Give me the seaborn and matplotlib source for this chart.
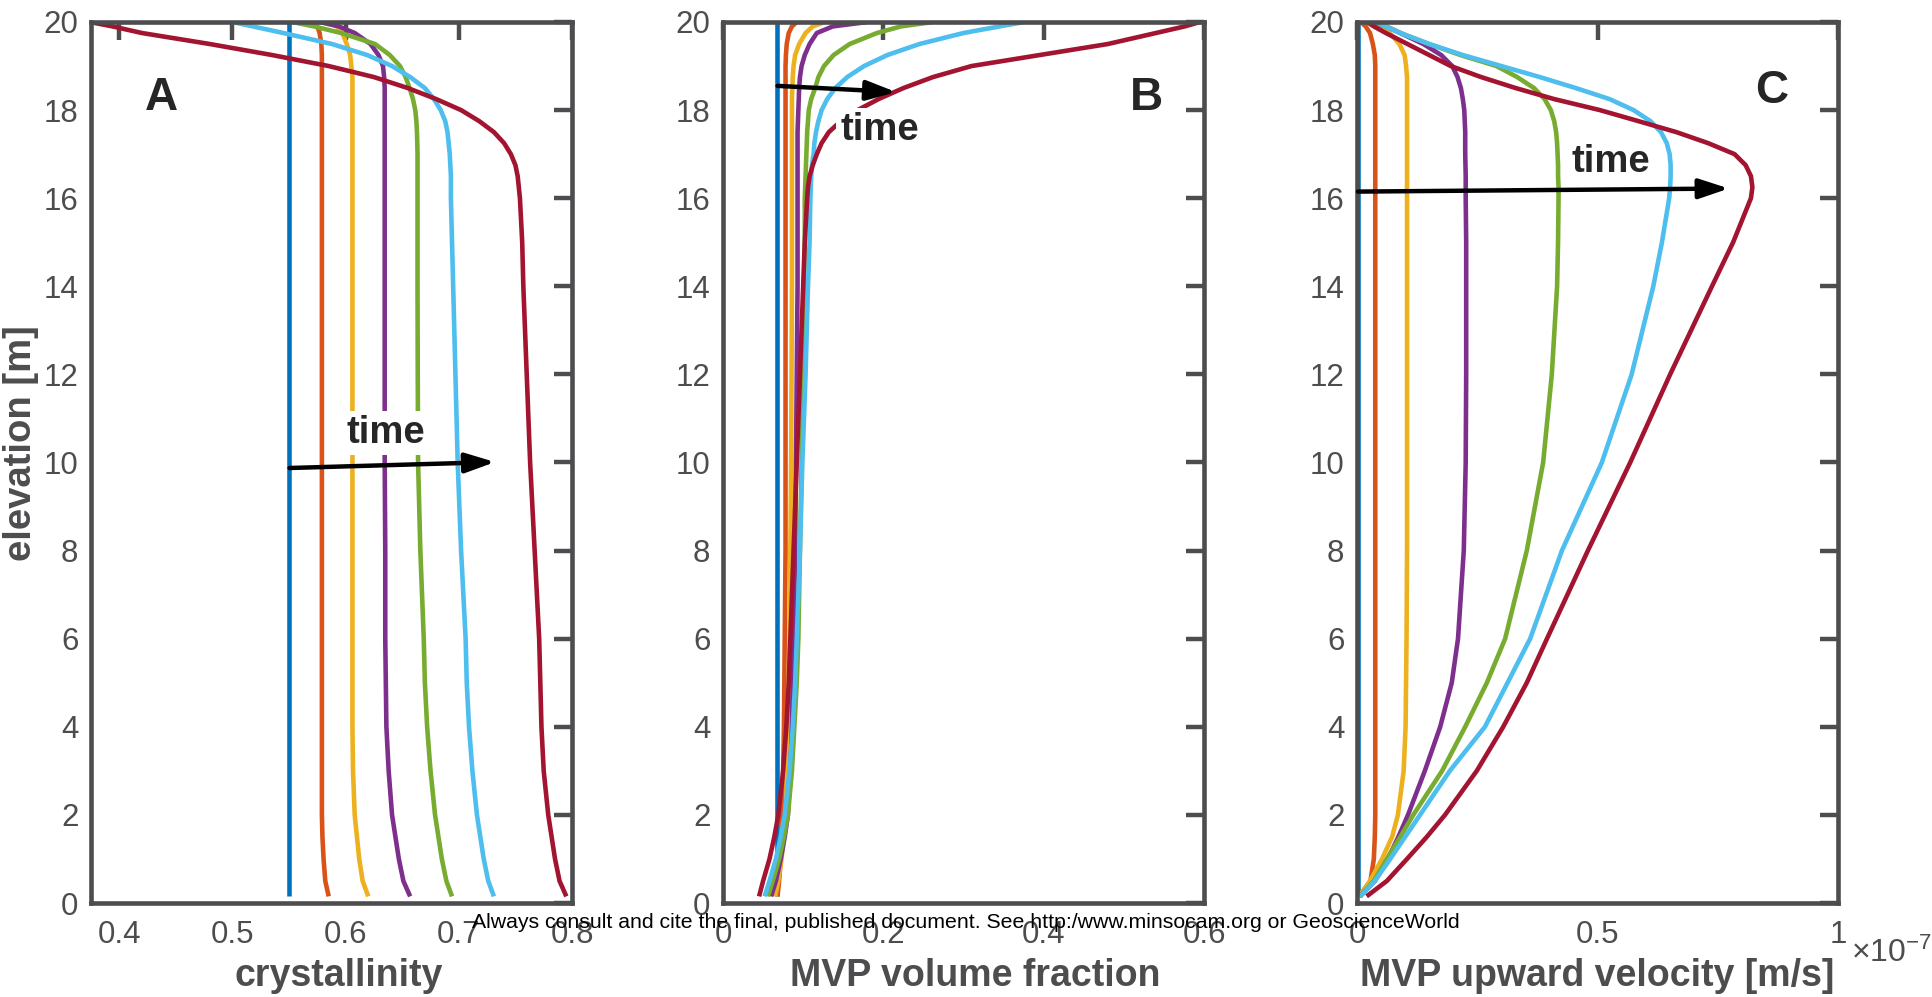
import numpy as np
import pandas as pd
import matplotlib
matplotlib.use("Agg")
import matplotlib.pyplot as plt
import seaborn as sns

# ---------------- data ----------------
elevation = [0.15, 0.5, 1, 1.5, 2, 3, 4, 5, 6, 8, 10, 12, 14, 15,
             16, 16.25, 16.5, 16.75, 17, 17.25, 17.5, 17.75, 18, 18.25, 18.5, 18.75,
             19, 19.25, 19.5, 19.75, 19.9, 20]
runs = ["t1", "t2", "t3", "t4", "t5", "t6", "t7"]
colors = ["#0072BD", "#D95319", "#EDB120", "#7E2F8E", "#77AC30", "#4DBEEE", "#A2142F"]

# Panel A: crystallinity
A_t1 = [0.55, 0.55, 0.55, 0.55, 0.55, 0.55, 0.55, 0.55, 0.55, 0.55, 0.55, 0.55, 0.55, 0.55,
        0.55, 0.55, 0.55, 0.55, 0.55, 0.55, 0.55, 0.55, 0.55, 0.55, 0.55, 0.55,
        0.55, 0.55, 0.55, 0.55, 0.55, 0.55]
A_t2 = [0.585, 0.582, 0.5805, 0.5795, 0.579, 0.579, 0.579, 0.579, 0.579, 0.579, 0.579, 0.579, 0.579, 0.579,
        0.579, 0.579, 0.579, 0.579, 0.579, 0.579, 0.579, 0.579, 0.579, 0.579, 0.579, 0.579,
        0.579, 0.579, 0.5785, 0.577, 0.575, 0.571]
A_t3 = [0.620, 0.615, 0.612, 0.610, 0.608, 0.6065, 0.606, 0.606, 0.606, 0.606, 0.606, 0.606, 0.606, 0.606,
        0.606, 0.606, 0.606, 0.606, 0.606, 0.606, 0.606, 0.606, 0.606, 0.606, 0.606, 0.606,
        0.605, 0.604, 0.601, 0.597, 0.592, 0.584]
A_t4 = [0.657, 0.651, 0.647, 0.644, 0.641, 0.638, 0.636, 0.6355, 0.635, 0.635, 0.6345, 0.6345, 0.6345, 0.6345,
        0.6345, 0.6345, 0.6345, 0.6345, 0.6345, 0.6345, 0.6345, 0.6345, 0.6345, 0.6345, 0.6345, 0.634,
        0.633, 0.629, 0.622, 0.608, 0.594, 0.577]
A_t5 = [0.694, 0.689, 0.685, 0.682, 0.679, 0.675, 0.672, 0.670, 0.669, 0.666, 0.664, 0.6637, 0.6635, 0.6635,
        0.6635, 0.6635, 0.6635, 0.6635, 0.6635, 0.6633, 0.663, 0.6625, 0.6615, 0.6595, 0.6565, 0.653,
        0.648, 0.639, 0.626, 0.596, 0.572, 0.553]
A_t6 = [0.731, 0.726, 0.722, 0.719, 0.716, 0.712, 0.709, 0.707, 0.706, 0.702, 0.699, 0.697, 0.695, 0.694,
        0.693, 0.693, 0.693, 0.6925, 0.692, 0.691, 0.690, 0.688, 0.684, 0.678, 0.670, 0.657,
        0.641, 0.619, 0.588, 0.545, 0.518, 0.500]
A_t7 = [0.795, 0.789, 0.785, 0.782, 0.779, 0.775, 0.773, 0.772, 0.771, 0.767, 0.763, 0.760, 0.757, 0.756,
        0.754, 0.753, 0.752, 0.750, 0.746, 0.740, 0.731, 0.718, 0.702, 0.680, 0.655, 0.625,
        0.585, 0.535, 0.480, 0.420, 0.394, 0.374]

# Panel B: MVP volume fraction
B_t1 = [0.067, 0.067, 0.067, 0.067, 0.067, 0.067, 0.067, 0.067, 0.067, 0.067, 0.067, 0.067, 0.067, 0.067,
        0.067, 0.067, 0.067, 0.067, 0.067, 0.067, 0.067, 0.067, 0.067, 0.067, 0.067, 0.067,
        0.067, 0.067, 0.067, 0.067, 0.067, 0.067]
B_t2 = [0.068, 0.070, 0.072, 0.073, 0.074, 0.075, 0.076, 0.0765, 0.077, 0.078, 0.078, 0.078, 0.078, 0.078,
        0.078, 0.078, 0.078, 0.078, 0.078, 0.078, 0.078, 0.078, 0.078, 0.078, 0.078, 0.078,
        0.078, 0.0785, 0.0795, 0.082, 0.086, 0.092]
B_t3 = [0.065, 0.069, 0.073, 0.076, 0.078, 0.080, 0.081, 0.082, 0.083, 0.084, 0.085, 0.0855, 0.086, 0.086,
        0.086, 0.086, 0.086, 0.086, 0.086, 0.086, 0.086, 0.086, 0.086, 0.086, 0.0865, 0.087,
        0.088, 0.090, 0.095, 0.103, 0.112, 0.127]
B_t4 = [0.060, 0.066, 0.072, 0.077, 0.081, 0.084, 0.086, 0.087, 0.088, 0.090, 0.091, 0.092, 0.093, 0.093,
        0.093, 0.093, 0.093, 0.093, 0.093, 0.093, 0.093, 0.0935, 0.094, 0.0945, 0.095, 0.096,
        0.098, 0.102, 0.108, 0.117, 0.137, 0.180]
B_t5 = [0.056, 0.062, 0.070, 0.076, 0.081, 0.086, 0.089, 0.092, 0.094, 0.096, 0.098, 0.0995, 0.101, 0.102,
        0.102, 0.1025, 0.103, 0.1035, 0.104, 0.1045, 0.105, 0.106, 0.107, 0.110, 0.115, 0.119,
        0.126, 0.138, 0.158, 0.192, 0.222, 0.262]
B_t6 = [0.052, 0.058, 0.066, 0.072, 0.077, 0.083, 0.087, 0.090, 0.092, 0.096, 0.099, 0.103, 0.106, 0.108,
        0.109, 0.1095, 0.110, 0.111, 0.113, 0.114, 0.116, 0.119, 0.123, 0.130, 0.140, 0.155,
        0.176, 0.205, 0.245, 0.300, 0.345, 0.376]
B_t7 = [0.045, 0.050, 0.058, 0.064, 0.069, 0.075, 0.079, 0.082, 0.084, 0.088, 0.092, 0.096, 0.100, 0.102,
        0.105, 0.106, 0.108, 0.112, 0.117, 0.123, 0.132, 0.147, 0.168, 0.194, 0.225, 0.262,
        0.310, 0.395, 0.480, 0.540, 0.576, 0.595]

# Panel C: MVP upward velocity, in units of 1e-7 m/s
C_t1 = [0.002, 0.002, 0.002, 0.002, 0.002, 0.002, 0.002, 0.002, 0.002, 0.002, 0.002, 0.002, 0.002, 0.002,
        0.002, 0.002, 0.002, 0.002, 0.002, 0.002, 0.002, 0.002, 0.002, 0.002, 0.002, 0.002,
        0.002, 0.002, 0.002, 0.002, 0.002, 0.002]
C_t2 = [0.004, 0.028, 0.035, 0.037, 0.038, 0.038, 0.038, 0.038, 0.038, 0.038, 0.038, 0.038, 0.038, 0.038,
        0.038, 0.038, 0.038, 0.038, 0.038, 0.038, 0.038, 0.038, 0.038, 0.038, 0.038, 0.038,
        0.038, 0.037, 0.033, 0.027, 0.018, 0.008]
C_t3 = [0.005, 0.027, 0.052, 0.073, 0.085, 0.097, 0.101, 0.102, 0.103, 0.104, 0.104, 0.104, 0.104, 0.104,
        0.104, 0.104, 0.104, 0.104, 0.104, 0.104, 0.104, 0.104, 0.104, 0.104, 0.104, 0.104,
        0.102, 0.099, 0.088, 0.068, 0.045, 0.027]
C_t4 = [0.006, 0.037, 0.064, 0.086, 0.106, 0.141, 0.173, 0.197, 0.210, 0.222, 0.226, 0.227, 0.227, 0.227,
        0.226, 0.226, 0.226, 0.2255, 0.225, 0.225, 0.225, 0.224, 0.223, 0.220, 0.216, 0.209,
        0.198, 0.175, 0.138, 0.090, 0.060, 0.035]
C_t5 = [0.006, 0.035, 0.062, 0.090, 0.117, 0.177, 0.225, 0.270, 0.308, 0.353, 0.387, 0.405, 0.416, 0.418,
        0.419, 0.419, 0.418, 0.418, 0.417, 0.416, 0.414, 0.410, 0.403, 0.390, 0.368, 0.333,
        0.290, 0.215, 0.150, 0.090, 0.060, 0.039]
C_t6 = [0.007, 0.037, 0.069, 0.100, 0.131, 0.193, 0.266, 0.313, 0.360, 0.426, 0.509, 0.571, 0.616, 0.634,
        0.649, 0.651, 0.652, 0.652, 0.650, 0.644, 0.632, 0.610, 0.575, 0.525, 0.455, 0.380,
        0.300, 0.220, 0.150, 0.090, 0.060, 0.039]
C_t7 = [0.020, 0.062, 0.104, 0.145, 0.183, 0.249, 0.304, 0.353, 0.395, 0.480, 0.568, 0.651, 0.738, 0.782,
        0.819, 0.822, 0.819, 0.808, 0.785, 0.730, 0.664, 0.585, 0.505, 0.410, 0.330, 0.258,
        0.195, 0.150, 0.105, 0.060, 0.035, 0.021]
C_scale = 1e-7

x_labels = ["crystallinity", "MVP volume fraction", "MVP upward velocity [m/s]"]
y_label = "elevation [m]"
panel_letters = ["A", "B", "C"]
A_ticks = [0.4, 0.5, 0.6, 0.7, 0.8]
B_ticks = [0, 0.2, 0.4, 0.6]
C_ticks = [0, 0.5e-7, 1e-7]
C_ticklabels = ["0", "0.5", "1"]
y_ticks = [0, 2, 4, 6, 8, 10, 12, 14, 16, 18, 20]
watermark = ("Always consult and cite the final, published document. "
             "See http:/www.minsocam.org or GeoscienceWorld")


def long_df(series, scale=1.0):
    frames = []
    for run, vals in zip(runs, series):
        frames.append(pd.DataFrame({"elevation": elevation,
                                    "value": np.asarray(vals) * scale,
                                    "run": run}))
    return pd.concat(frames, ignore_index=True)


dfA = long_df([A_t1, A_t2, A_t3, A_t4, A_t5, A_t6, A_t7])
dfB = long_df([B_t1, B_t2, B_t3, B_t4, B_t5, B_t6, B_t7])
dfC = long_df([C_t1, C_t2, C_t3, C_t4, C_t5, C_t6, C_t7], C_scale)

# ---------------- style ----------------
sns.set_style("white")
plt.rcParams["font.family"] = ["Liberation Sans", "DejaVu Sans"]
plt.rcParams["mathtext.fontset"] = "custom"
plt.rcParams["mathtext.rm"] = "Liberation Sans"
plt.rcParams["lines.solid_capstyle"] = "butt"

GRAY = "#4d4d4f"
W, H = 1932, 997
fig = plt.figure(figsize=(W / 100, H / 100), dpi=100)
fig.patch.set_facecolor("white")

ax_bottom = (H - 903) / H
ax_height = (903 - 22) / H
lefts = [91, 723, 1357]
width = 481
axes = [fig.add_axes([l / W, ax_bottom, width / W, ax_height]) for l in lefts]

for ax, df in zip(axes, [dfA, dfB, dfC]):
    sns.lineplot(data=df, x="value", y="elevation", hue="run", hue_order=runs,
                 palette=colors, sort=False, estimator=None, legend=False,
                 linewidth=3.3, ax=ax)

axes[0].set_xlim(0.375, 0.8)
axes[0].set_xticks(A_ticks)
axes[0].set_xticklabels([f"{t:g}" for t in A_ticks])
axes[1].set_xlim(0, 0.6)
axes[1].set_xticks(B_ticks)
axes[1].set_xticklabels([f"{t:g}" for t in B_ticks])
axes[2].set_xlim(0, 1e-7)
axes[2].set_xticks(C_ticks)
axes[2].set_xticklabels(C_ticklabels)

xlabel_x = [0.515, 0.524, 0.5]
for i, ax in enumerate(axes):
    ax.set_ylim(0, 20)
    ax.set_yticks(y_ticks)
    ax.set_yticklabels([str(t) for t in y_ticks])
    ax.tick_params(axis="both", direction="in", length=13, width=3.2, color=GRAY,
                   labelcolor=GRAY, labelsize=22.5, top=True, right=True)
    ax.tick_params(axis="x", pad=12)
    ax.tick_params(axis="y", pad=9)
    for s in ax.spines.values():
        s.set_visible(True)
        s.set_linewidth(3.3)
        s.set_color(GRAY)
    ax.set_xlabel(x_labels[i], fontsize=27, fontweight="bold", color=GRAY, labelpad=6,
                  x=xlabel_x[i])
    if i == 0:
        ax.set_ylabel(y_label, fontsize=27.5, fontweight="bold", color=GRAY, labelpad=3,
                      y=0.522)
    else:
        ax.set_ylabel("")
    ax.set_facecolor("white")

# panel letters
axes[0].text(0.437, 18.0, "A", fontsize=33, fontweight="bold", ha="center", va="baseline", zorder=7)
axes[1].text(0.528, 18.0, "B", fontsize=33, fontweight="bold", ha="center", va="baseline", zorder=7)
axes[2].text(0.863e-7, 18.16, "C", fontsize=33, fontweight="bold", ha="center", va="baseline", zorder=7)

# time arrows and labels
arrow_kw = dict(arrowstyle="-|>,head_length=0.6,head_width=0.2", color="black",
                lw=3.2, shrinkA=0, shrinkB=0, mutation_scale=30)
axes[0].annotate("", xy=(0.732, 10.01), xytext=(0.5504, 9.875), arrowprops=arrow_kw, zorder=5)
axes[1].annotate("", xy=(0.216, 18.41), xytext=(0.068, 18.55), arrowprops=arrow_kw, zorder=5)
axes[2].annotate("", xy=(0.773e-7, 16.22), xytext=(0.002e-7, 16.15), arrowprops=arrow_kw, zorder=5)

time_kw = dict(fontsize=27.5, fontweight="bold", ha="center", va="baseline", zorder=6,
               bbox=dict(facecolor="white", edgecolor="none", pad=3))
axes[0].text(0.6354, 10.44, "time", **time_kw)
axes[1].text(0.195, 17.32, "time", **time_kw)
axes[2].text(0.528e-7, 16.6, "time", **time_kw)

# exponent for panel C
fig.text(1851 / W, 1 - 962 / H, r"$\mathregular{\times10^{-7}}$", fontsize=23,
         color=GRAY, ha="left", va="baseline")

# watermark
fig.text(0.5, 1 - 922 / H, watermark, fontsize=15.3, color="black",
         ha="center", va="center", zorder=20)

fig.savefig("out.png", dpi=100, facecolor="white")
